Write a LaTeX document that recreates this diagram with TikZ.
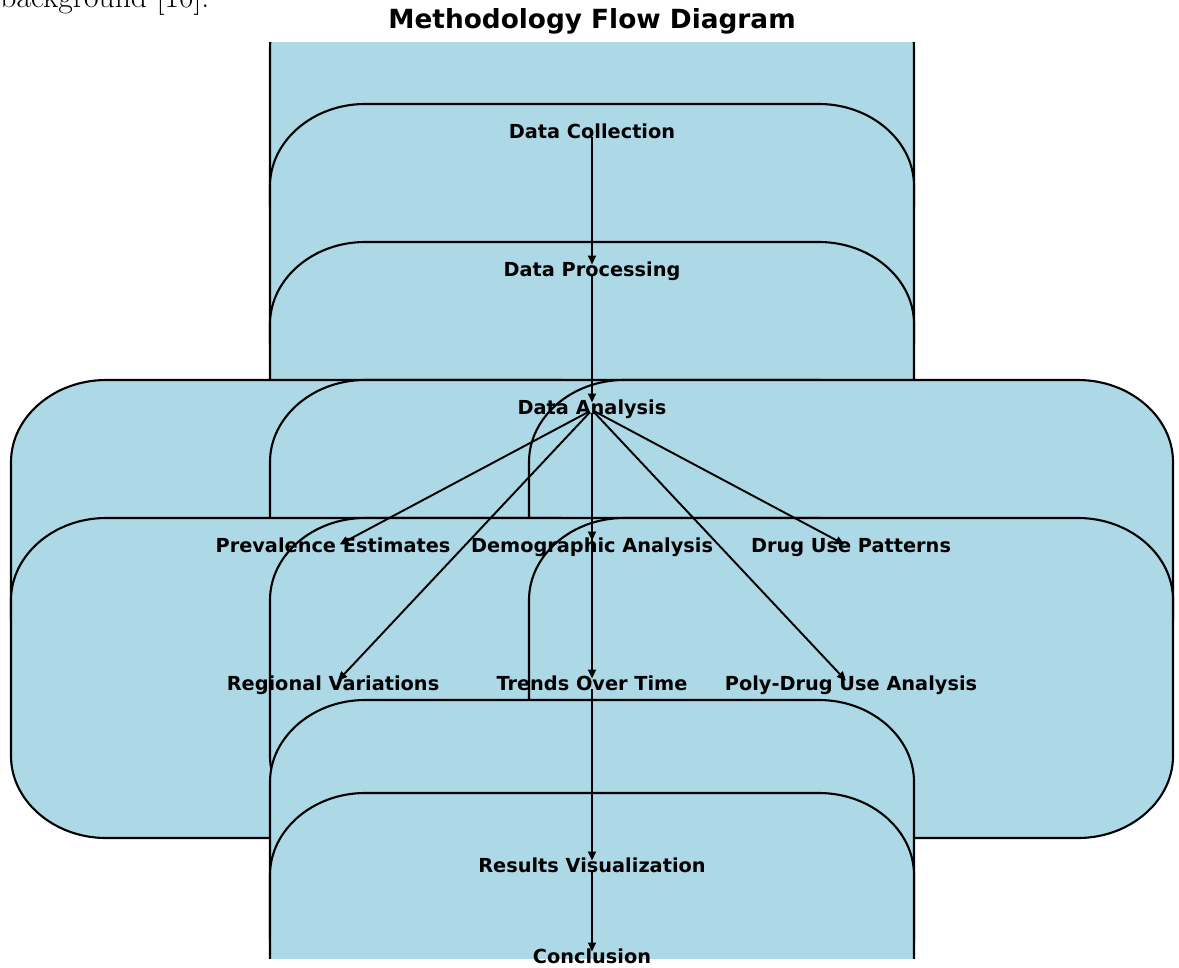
\documentclass[tikz,border=0pt]{standalone}
\usepackage{fontspec}
\setsansfont{DejaVu Sans}
\usetikzlibrary{arrows.meta}
\definecolor{boxblue}{HTML}{ADD8E6}
% rounded box behind a label, centre (x,y) in pixels, y downwards
\def\flowbox(#1,#2){%
	\pgfmathsetmacro{\boxL}{#1-322}\pgfmathsetmacro{\boxR}{#1+322}%
	\pgfmathsetmacro{\boxT}{#2-165}\pgfmathsetmacro{\boxB}{#2+155}%
	\draw[box] (\boxL,\boxT+82) .. controls (\boxL,\boxT+37) and (\boxL+43,\boxT) .. (\boxL+95,\boxT)
		-- (\boxR-95,\boxT) .. controls (\boxR-43,\boxT) and (\boxR,\boxT+37) .. (\boxR,\boxT+82)
		-- (\boxR,\boxB-82) .. controls (\boxR,\boxB-37) and (\boxR-43,\boxB) .. (\boxR-95,\boxB)
		-- (\boxL+95,\boxB) .. controls (\boxL+43,\boxB) and (\boxL,\boxB-37) .. (\boxL,\boxB-82) -- cycle;}

\begin{document}
\begin{tikzpicture}[x=0.02cm, y=-0.02cm,
	box/.style={draw=black, fill=boxblue, line width=1.2pt},
	lbl/.style={font=\sffamily\bfseries\fontsize{11pt}{13pt}\selectfont, inner sep=0pt, text height=1.6ex, text depth=0.3ex, yshift=-0.06cm},
	arr/.style={line width=1.1pt, -{Triangle[length=0.18cm, width=0.16cm]}, shorten >=0.15cm, shorten <=0.06cm}]
			%%%%% START %%%%%
			\useasboundingbox (0,0) rectangle (1179,967);
			
			\node[anchor=base west, inner sep=0pt, font=\fontsize{18pt}{22pt}\selectfont] (pagetext) at (0,7) {background [10].};
			\node[font=\sffamily\bfseries\fontsize{15pt}{18pt}\selectfont, inner sep=0pt] (title) at (592,21) {Methodology Flow Diagram};
			
			\begin{scope}
			\clip (0,42) rectangle (1179,958);
			\flowbox(592,131)
			\flowbox(592,269)
			\flowbox(592,407)
			
			\flowbox(333,545)
			\flowbox(592,545)
			\flowbox(851,545)
			
			\flowbox(333,683)
			\flowbox(592,683)
			\flowbox(851,683)
			
			\flowbox(592,865)
			\flowbox(592,958)
			\end{scope}
			
			\node[lbl] (coll) at (592,131) {Data Collection};
			\node[lbl] (proc) at (592,269) {Data Processing};
			\node[lbl] (anal) at (592,407) {Data Analysis};
			\node[lbl] (prev) at (333,545) {Prevalence Estimates};
			\node[lbl] (demo) at (592,545) {Demographic Analysis};
			\node[lbl] (drug) at (851,545) {Drug Use Patterns};
			\node[lbl] (regi) at (333,683) {Regional Variations};
			\node[lbl] (trnd) at (592,683) {Trends Over Time};
			\node[lbl] (poly) at (851,683) {Poly-Drug Use Analysis};
			\node[lbl] (resu) at (592,865) {Results Visualization};
			\node[lbl] (conc) at (592,956) {Conclusion};
			
			\draw[arr] (coll.center) -- (proc.center);
			\draw[arr] (proc.center) -- (anal.center);
			\draw[arr] (anal.center) -- (prev.center);
			\draw[arr] (anal.center) -- (demo.center);
			\draw[arr] (anal.center) -- (drug.center);
			\draw[arr] (anal.center) -- (regi.center);
			\draw[arr] (anal.center) -- (trnd.center);
			\draw[arr] (anal.center) -- (poly.center);
			\draw[arr] (trnd.center) -- (resu.center);
			\draw[arr] (resu.center) -- (conc.center);
			
			%%%%% END %%%%%
\end{tikzpicture}
\end{document}
